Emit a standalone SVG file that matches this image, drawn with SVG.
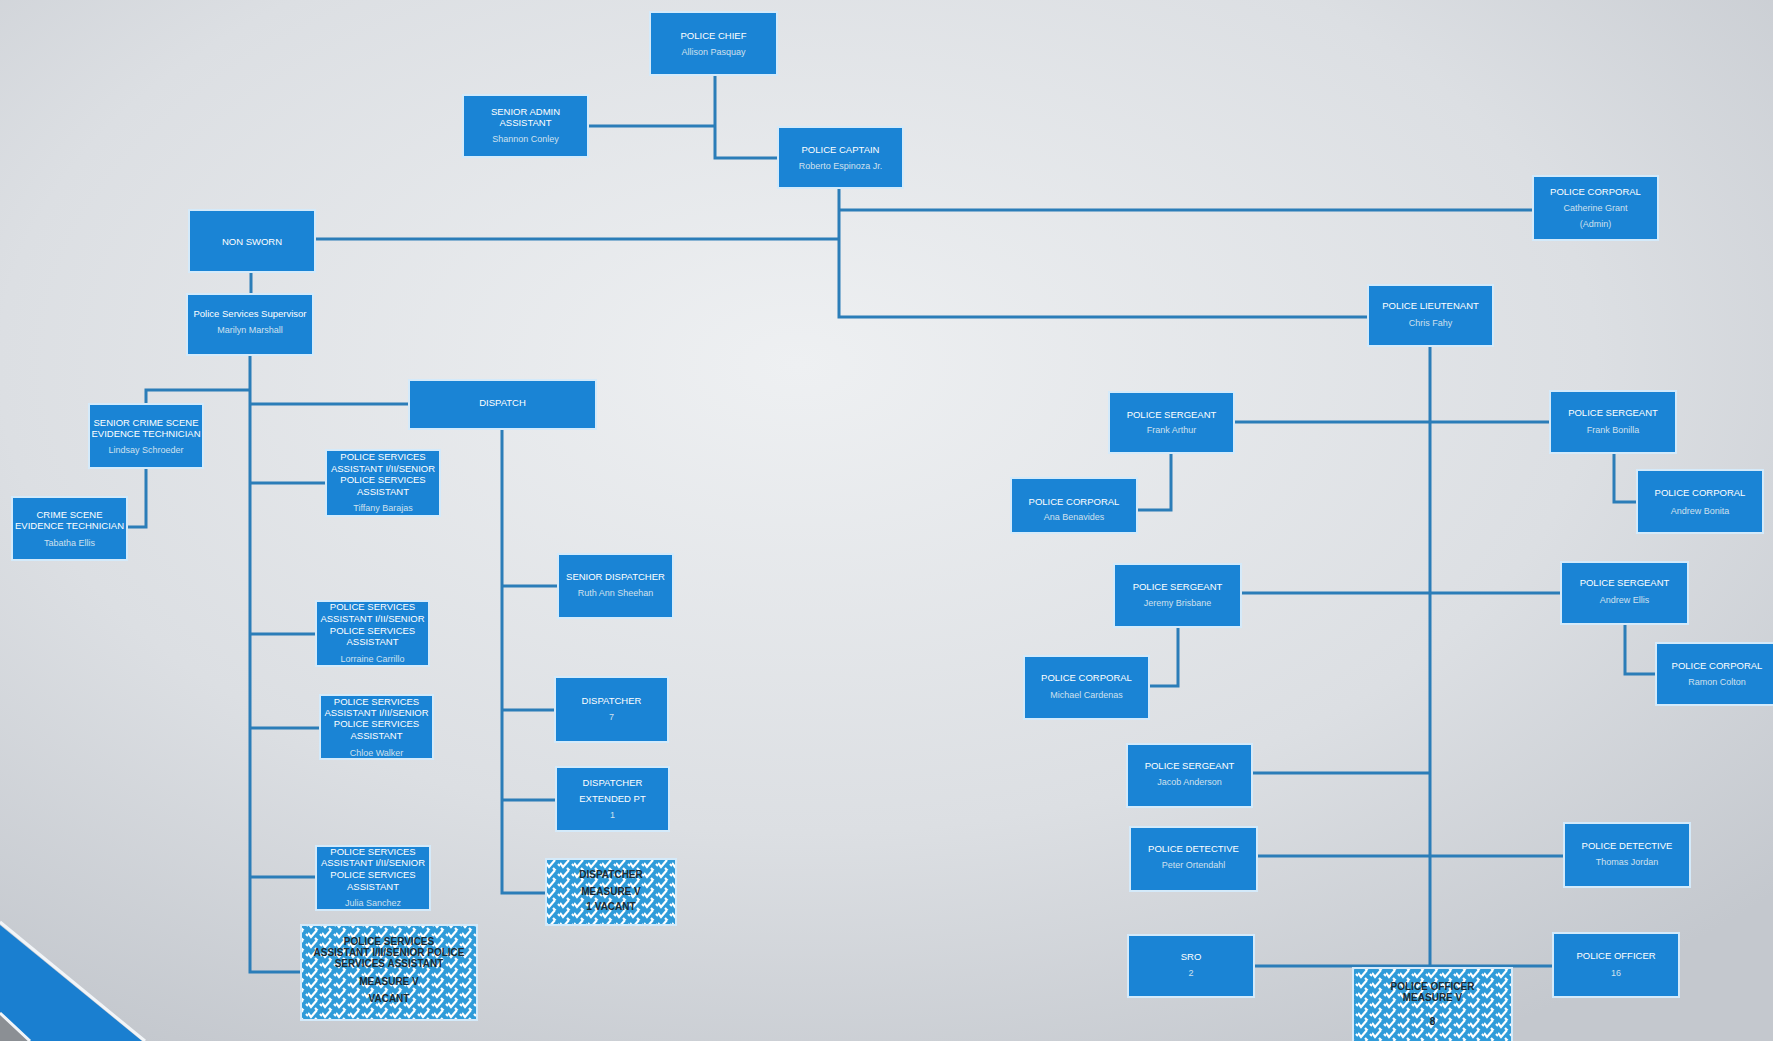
<svg xmlns="http://www.w3.org/2000/svg" width="1773" height="1041" viewBox="0 0 1773 1041">
<defs>
<radialGradient id="bg" cx="0.45" cy="0.35" r="0.75">
<stop offset="0" stop-color="#eef0f2"/>
<stop offset="0.6" stop-color="#dcdfe3"/>
<stop offset="1" stop-color="#c4c8ce"/>
</radialGradient>
<pattern id="hatch" width="14" height="10" patternUnits="userSpaceOnUse">
<rect width="14" height="10" fill="#2f9bd9"/>
<path d="M0,3 L3,7 L9,0 M7,8 L10,11 M12,4 L14,6" fill="none" stroke="#ffffff" stroke-width="2.2"/>
</pattern>
<style>
.box{fill:#1a84d5;stroke:#d4eafa;stroke-width:2}
.hbox{fill:url(#hatch);stroke:#d4eafa;stroke-width:2}
.t{font-family:"Liberation Sans","Open Sans",sans-serif;font-size:9.5px;fill:#ffffff;text-anchor:middle}
.n{font-family:"Liberation Sans","Open Sans",sans-serif;font-size:9px;fill:#cfe0ee;text-anchor:middle}
.h{font-family:"Liberation Sans","Open Sans",sans-serif;font-size:10px;font-weight:bold;fill:#1b2a33;text-anchor:middle}
.c{fill:none;stroke:#2b7db8;stroke-width:3}
</style>
</defs>
<rect width="1773" height="1041" fill="url(#bg)"/>
<polygon points="0,1000 0,1041 28,1041" fill="#8b8f94"/>
<polygon points="0,925 142,1041 30,1041 0,1012" fill="#1a7fd0"/>
<path d="M0,922 L145,1041 M0,1013 L30,1041" stroke="#f2f5f8" stroke-width="3" fill="none"/>

<g id="connectors">
<path class="c" d="M715,75 V158 H778"/>
<path class="c" d="M588,126 H715"/>
<path class="c" d="M839,188 V317 H1368"/>
<path class="c" d="M839,210 H1533"/>
<path class="c" d="M315,239 H839"/>
<path class="c" d="M251,272 V294"/>
<path class="c" d="M250,355 V972 H301"/>
<path class="c" d="M250,390 H146 V404"/>
<path class="c" d="M146,468 V527 H127"/>
<path class="c" d="M250,404 H409"/>
<path class="c" d="M250,483 H326"/>
<path class="c" d="M250,634 H316"/>
<path class="c" d="M250,728 H320"/>
<path class="c" d="M250,877 H316"/>
<path class="c" d="M502,429 V893 H546"/>
<path class="c" d="M502,586 H558"/>
<path class="c" d="M502,710 H555"/>
<path class="c" d="M502,800 H556"/>
<path class="c" d="M1430,346 V968"/>
<path class="c" d="M1234,422 H1550"/>
<path class="c" d="M1171,453 V510 H1137"/>
<path class="c" d="M1614,453 V502 H1637"/>
<path class="c" d="M1241,593 H1561"/>
<path class="c" d="M1178,627 V686 H1149"/>
<path class="c" d="M1625,624 V674 H1656"/>
<path class="c" d="M1252,773 H1430"/>
<path class="c" d="M1257,856 H1564"/>
<path class="c" d="M1254,966 H1553"/>
</g>

<g id="police-chief"><rect class="box" x="650" y="12" width="127" height="63"/><text class="t" x="713.5" y="39">POLICE CHIEF</text><text class="n" x="713.5" y="55">Allison Pasquay</text></g>
<g id="senior-admin-assistant"><rect class="box" x="463" y="95" width="125" height="62"/><text class="t" x="525.5" y="115">SENIOR ADMIN</text><text class="t" x="525.5" y="126">ASSISTANT</text><text class="n" x="525.5" y="142">Shannon Conley</text></g>
<g id="police-captain"><rect class="box" x="778" y="127" width="125" height="61"/><text class="t" x="840.5" y="153">POLICE CAPTAIN</text><text class="n" x="840.5" y="169">Roberto Espinoza Jr.</text></g>
<g id="police-corporal-admin"><rect class="box" x="1533" y="176" width="125" height="64"/><text class="t" x="1595.5" y="195">POLICE CORPORAL</text><text class="n" x="1595.5" y="211">Catherine Grant</text><text class="n" x="1595.5" y="227">(Admin)</text></g>
<g id="non-sworn"><rect class="box" x="189" y="210" width="126" height="62"/><text class="t" x="252" y="245">NON SWORN</text></g>
<g id="police-services-supervisor"><rect class="box" x="187" y="294" width="126" height="61"/><text class="t" x="250" y="317">Police Services Supervisor</text><text class="n" x="250" y="333">Marilyn Marshall</text></g>
<g id="police-lieutenant"><rect class="box" x="1368" y="285" width="125" height="61"/><text class="t" x="1430.5" y="309">POLICE LIEUTENANT</text><text class="n" x="1430.5" y="326">Chris Fahy</text></g>
<g id="senior-csi"><rect class="box" x="89" y="404" width="114" height="64"/><text class="t" x="146" y="426">SENIOR CRIME SCENE</text><text class="t" x="146" y="437">EVIDENCE TECHNICIAN</text><text class="n" x="146" y="453">Lindsay Schroeder</text></g>
<g id="csi"><rect class="box" x="12" y="497" width="115" height="63"/><text class="t" x="69.5" y="518">CRIME SCENE</text><text class="t" x="69.5" y="529">EVIDENCE TECHNICIAN</text><text class="n" x="69.5" y="546">Tabatha Ellis</text></g>
<g id="dispatch"><rect class="box" x="409" y="380" width="187" height="49"/><text class="t" x="502.5" y="406">DISPATCH</text></g>
<g id="psa-1"><rect class="box" x="326" y="450" width="114" height="66"/><text class="t" x="383" y="460">POLICE SERVICES</text><text class="t" x="383" y="472">ASSISTANT I/II/SENIOR</text><text class="t" x="383" y="483">POLICE SERVICES</text><text class="t" x="383" y="495">ASSISTANT</text><text class="n" x="383" y="511">Tiffany Barajas</text></g>
<g id="psa-2"><rect class="box" x="316" y="601" width="113" height="65"/><text class="t" x="372.5" y="610">POLICE SERVICES</text><text class="t" x="372.5" y="622">ASSISTANT I/II/SENIOR</text><text class="t" x="372.5" y="634">POLICE SERVICES</text><text class="t" x="372.5" y="645">ASSISTANT</text><text class="n" x="372.5" y="662">Lorraine Carrillo</text></g>
<g id="psa-3"><rect class="box" x="320" y="695" width="113" height="64"/><text class="t" x="376.5" y="705">POLICE SERVICES</text><text class="t" x="376.5" y="716">ASSISTANT I/II/SENIOR</text><text class="t" x="376.5" y="727">POLICE SERVICES</text><text class="t" x="376.5" y="739">ASSISTANT</text><text class="n" x="376.5" y="756">Chloe Walker</text></g>
<g id="psa-4"><rect class="box" x="316" y="846" width="114" height="64"/><text class="t" x="373" y="855">POLICE SERVICES</text><text class="t" x="373" y="866">ASSISTANT I/II/SENIOR</text><text class="t" x="373" y="878">POLICE SERVICES</text><text class="t" x="373" y="890">ASSISTANT</text><text class="n" x="373" y="906">Julia Sanchez</text></g>
<g id="psa-measure-v"><rect class="hbox" x="301" y="925" width="176" height="95"/><text class="h" x="389" y="945">POLICE SERVICES</text><text class="h" x="389" y="956">ASSISTANT I/II/SENIOR POLICE</text><text class="h" x="389" y="967">SERVICES ASSISTANT</text><text class="h" x="389" y="985">MEASURE V</text><text class="h" x="389" y="1002">VACANT</text></g>
<g id="senior-dispatcher"><rect class="box" x="558" y="554" width="115" height="64"/><text class="t" x="615.5" y="580">SENIOR DISPATCHER</text><text class="n" x="615.5" y="596">Ruth Ann Sheehan</text></g>
<g id="dispatcher"><rect class="box" x="555" y="677" width="113" height="65"/><text class="t" x="611.5" y="704">DISPATCHER</text><text class="n" x="611.5" y="720">7</text></g>
<g id="dispatcher-extended"><rect class="box" x="556" y="767" width="113" height="64"/><text class="t" x="612.5" y="786">DISPATCHER</text><text class="t" x="612.5" y="802">EXTENDED PT</text><text class="n" x="612.5" y="818">1</text></g>
<g id="dispatcher-measure-v"><rect class="hbox" x="546" y="859" width="130" height="66"/><text class="h" x="611" y="878">DISPATCHER</text><text class="h" x="611" y="895">MEASURE V</text><text class="h" x="611" y="910">1 VACANT</text></g>
<g id="sergeant-1"><rect class="box" x="1109" y="392" width="125" height="61"/><text class="t" x="1171.5" y="418">POLICE SERGEANT</text><text class="n" x="1171.5" y="433">Frank Arthur</text></g>
<g id="corporal-1"><rect class="box" x="1011" y="478" width="126" height="55"/><text class="t" x="1074" y="505">POLICE CORPORAL</text><text class="n" x="1074" y="520">Ana Benavides</text></g>
<g id="sergeant-2"><rect class="box" x="1550" y="391" width="126" height="62"/><text class="t" x="1613" y="416">POLICE SERGEANT</text><text class="n" x="1613" y="433">Frank Bonilla</text></g>
<g id="corporal-2"><rect class="box" x="1637" y="470" width="126" height="63"/><text class="t" x="1700" y="496">POLICE CORPORAL</text><text class="n" x="1700" y="514">Andrew Bonita</text></g>
<g id="sergeant-3"><rect class="box" x="1114" y="564" width="127" height="63"/><text class="t" x="1177.5" y="590">POLICE SERGEANT</text><text class="n" x="1177.5" y="606">Jeremy Brisbane</text></g>
<g id="corporal-3"><rect class="box" x="1024" y="656" width="125" height="63"/><text class="t" x="1086.5" y="681">POLICE CORPORAL</text><text class="n" x="1086.5" y="698">Michael Cardenas</text></g>
<g id="sergeant-4"><rect class="box" x="1561" y="562" width="127" height="62"/><text class="t" x="1624.5" y="586">POLICE SERGEANT</text><text class="n" x="1624.5" y="603">Andrew Ellis</text></g>
<g id="corporal-4"><rect class="box" x="1656" y="643" width="125" height="62"/><text class="t" x="1717" y="669">POLICE CORPORAL</text><text class="n" x="1717" y="685">Ramon Colton</text></g>
<g id="sergeant-5"><rect class="box" x="1127" y="744" width="125" height="63"/><text class="t" x="1189.5" y="769">POLICE SERGEANT</text><text class="n" x="1189.5" y="785">Jacob Anderson</text></g>
<g id="detective-1"><rect class="box" x="1130" y="827" width="127" height="64"/><text class="t" x="1193.5" y="852">POLICE DETECTIVE</text><text class="n" x="1193.5" y="868">Peter Ortendahl</text></g>
<g id="detective-2"><rect class="box" x="1564" y="823" width="126" height="64"/><text class="t" x="1627" y="849">POLICE DETECTIVE</text><text class="n" x="1627" y="865">Thomas Jordan</text></g>
<g id="sro"><rect class="box" x="1128" y="935" width="126" height="62"/><text class="t" x="1191" y="960">SRO</text><text class="n" x="1191" y="976">2</text></g>
<g id="police-officer"><rect class="box" x="1553" y="933" width="126" height="64"/><text class="t" x="1616" y="959">POLICE OFFICER</text><text class="n" x="1616" y="976">16</text></g>
<g id="police-officer-measure-v"><rect class="hbox" x="1353" y="968" width="159" height="80"/><text class="h" x="1432.5" y="990">POLICE OFFICER</text><text class="h" x="1432.5" y="1001">MEASURE V</text><text class="h" x="1432.5" y="1025">8</text></g>
</svg>
